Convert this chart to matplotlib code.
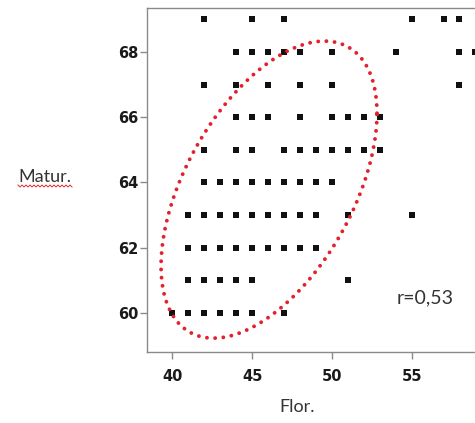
import numpy as np
import matplotlib
matplotlib.use("Agg")
import matplotlib.pyplot as plt

# =========================
# Datos
# =========================
# cada fila: valor de Matur. y los valores de Flor. en esa fila
matur_rows = [60, 61, 62, 63, 64, 65, 66, 67, 68, 69]
flor_rows = [
    [40, 41, 42, 43, 44, 45, 47],
    [41, 42, 43, 44, 45, 51],
    [41, 42, 43, 44, 45, 46, 47, 48, 49],
    [41, 42, 43, 44, 45, 46, 47, 48, 49, 51, 55],
    [42, 43, 44, 45, 46, 47, 48, 49, 50],
    [42, 44, 45, 47, 48, 49, 50, 51, 52, 53],
    [44, 45, 46, 48, 50, 51, 52, 53],
    [42, 44, 46, 48, 50, 58],
    [44, 45, 46, 47, 48, 50, 54, 58, 59],
    [42, 45, 47, 55, 57, 58],
]

x_ticks = [40, 45, 50, 55]
y_ticks = [60, 62, 64, 66, 68]
r_text = "r=0,53"

# elipse dibujada a mano (centro, semiejes en x/y, correlacion)
ell_cx, ell_cy = 46.06, 63.78
ell_sx, ell_sy = 6.77, 4.555
ell_rho = 0.514

flor = np.concatenate([np.array(r, float) for r in flor_rows])
matur = np.concatenate([np.full(len(r), m, float) for m, r in zip(matur_rows, flor_rows)])

# =========================
# Figura
# =========================
W, H = 475, 423
fig = plt.figure(figsize=(W / 100, H / 100), dpi=100)
# el eje se sale por la derecha (como en la imagen recortada)
ax = fig.add_axes([147 / W, (H - 352) / H, 0.725, (352 - 8) / H])

ax.scatter(flor, matur, marker="s", s=17, color="#111111", linewidths=0, zorder=3)

t = np.linspace(0, 2 * np.pi, 500)
ex = ell_cx + ell_sx * np.cos(t)
ey = ell_cy + ell_sy * (ell_rho * np.cos(t) + np.sqrt(1 - ell_rho ** 2) * np.sin(t))
ax.plot(ex, ey, color="#e3202c", lw=2.8, dashes=[0.01, 2.1],
        dash_capstyle="round", zorder=4)

ax.set_xlim(38.41, 60)
ax.set_ylim(58.80, 69.35)
ax.set_xticks(x_ticks)
ax.set_yticks(y_ticks)

for s in ax.spines.values():
    s.set_color("#8a8a8a")
    s.set_linewidth(1.0)
ax.tick_params(axis="both", colors="#8a8a8a", length=5, width=1,
               labelcolor="#1a1a1a", labelsize=10.5)
ax.tick_params(axis="x", pad=7)
ax.tick_params(axis="y", pad=1)
for lab in ax.get_xticklabels() + ax.get_yticklabels():
    lab.set_fontweight("bold")
    lab.set_family("DejaVu Sans")

# texto del coeficiente (pixeles de la figura, origen arriba)
fig.text(425 / W, 1 - 298 / H, r_text, fontsize=14, family="Lato",
         color="#333333", ha="center", va="center")

# etiquetas de los ejes
fig.text(297 / W, 1 - 407 / H, "Flor.", fontsize=13, family="Lato",
         color="#333333", ha="center", va="center")
fig.text(18 / W, 1 - 177 / H, "Matur.", fontsize=13, family="Lato",
         color="#333333", ha="left", va="center")

# subrayado ondulado rojo del corrector
wx = np.arange(18, 74, 2.0)
wy = np.where(np.arange(len(wx)) % 2 == 0, 185.0, 187.0)
fig.add_artist(plt.Line2D(wx / W, 1 - wy / H, color="#d03030", lw=0.7,
                          transform=fig.transFigure))

fig.savefig("out.png", dpi=100)
